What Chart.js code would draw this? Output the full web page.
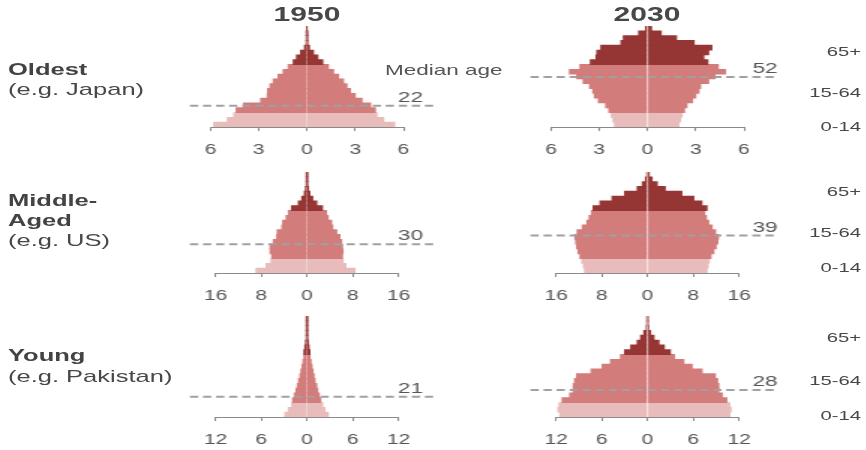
<!DOCTYPE html>
<html>
<head>
<meta charset="utf-8">
<script src="https://cdn.jsdelivr.net/npm/chart.js@4.4.1/dist/chart.umd.min.js"></script>
<style>
    html, body { margin: 0; padding: 0; background: #fff; overflow: hidden; }
    #page {
        position: absolute; left: 0; top: 0;
        width: 578px; height: 450px;
        transform: scaleX(1.5); transform-origin: 0 0;
        font-family: 'Liberation Sans', Arial, sans-serif; color: #444;
    }
    .txt { position: absolute; white-space: nowrap; line-height: 20px; }
    canvas { position: absolute; }
</style>
</head>
<body>
<div id="page"></div>
<script>
// 5-year age bands, bottom to top
const ageGroups = ['0-4', '5-9', '10-14', '15-19', '20-24', '25-29', '30-34', '35-39', '40-44', '45-49',
    '50-54', '55-59', '60-64', '65-69', '70-74', '75-79', '80-84', '85-89', '90-94', '95-99', '100+'];

const japan1950Male = [5.8, 4.95, 4.55, 4.4, 3.95, 2.88, 2.47, 2.45, 2.3, 2.1, 1.8, 1.48, 1.17, 0.85, 0.65, 0.4, 0.15, 0.05, 0.04, 0.03, 0];
const japan1950Female = [5.45, 4.77, 4.35, 4.25, 3.95, 3.42, 3.0, 2.7, 2.48, 2.27, 1.96, 1.65, 1.33, 0.98, 0.67, 0.4, 0.15, 0.05, 0.04, 0.03, 0];
const japan2030Male = [2.05, 2.15, 2.25, 2.4, 2.6, 3.05, 3.3, 3.4, 3.6, 4.0, 4.4, 4.85, 4.2, 3.55, 3.2, 3.15, 2.9, 1.65, 1.5, 0.55, 0.12];
const japan2030Female = [1.95, 2.05, 2.15, 2.3, 2.45, 2.8, 3.0, 3.2, 3.3, 3.8, 4.2, 4.85, 4.4, 3.75, 3.5, 3.8, 4.0, 2.9, 1.8, 0.85, 0.25];
const us1950Male = [8.9, 7.15, 6.3, 6.15, 6.45, 6.45, 5.9, 5.3, 5.2, 4.4, 4.25, 3.65, 3.25, 2.7, 1.5, 0.9, 0.45, 0.25, 0.08, 0.05, 0.03];
const us1950Female = [8.4, 6.8, 6.3, 6.2, 6.3, 6.2, 6.05, 5.75, 5.2, 4.5, 4.3, 3.7, 3.4, 2.7, 1.7, 1.0, 0.5, 0.25, 0.08, 0.05, 0.03];
const us2030Male = [11.0, 11.2, 11.5, 11.8, 12.15, 12.4, 12.55, 12.7, 12.3, 11.4, 10.6, 10.2, 9.8, 9.5, 8.3, 6.2, 4.0, 1.8, 0.9, 0.35, 0.1];
const us2030Female = [10.4, 10.6, 10.8, 11.1, 11.6, 12.0, 12.3, 12.4, 11.9, 11.3, 10.7, 10.3, 10.0, 10.4, 9.5, 8.1, 6.0, 3.1, 1.7, 0.8, 0.3];
const pakistan1950Male = [2.9, 2.45, 2.0, 1.88, 1.66, 1.44, 1.27, 1.1, 0.92, 0.79, 0.65, 0.52, 0.4, 0.4, 0.28, 0.18, 0.08, 0.06, 0.05, 0.04, 0.03];
const pakistan1950Female = [2.8, 2.35, 2.05, 1.8, 1.6, 1.4, 1.27, 1.05, 0.92, 0.79, 0.65, 0.52, 0.4, 0.38, 0.26, 0.17, 0.08, 0.06, 0.05, 0.04, 0.03];
const pakistan2030Male = [11.5, 11.75, 11.6, 11.2, 10.2, 9.74, 9.74, 9.56, 9.3, 7.4, 5.94, 4.85, 3.54, 3.0, 2.2, 1.35, 0.9, 0.48, 0.15, 0.08, 0.05];
const pakistan2030Female = [10.8, 10.96, 10.8, 10.4, 9.8, 9.35, 9.35, 9.2, 8.9, 7.16, 5.85, 4.76, 3.54, 3.0, 2.2, 1.5, 0.85, 0.4, 0.15, 0.08, 0.05];

// panel order: Japan 1950, Japan 2030, US 1950, US 2030, Pakistan 1950, Pakistan 2030
const medianAges = [22, 52, 30, 39, 21, 28];
const axisMax = [6, 6, 16, 16, 12, 12];
const axisStep = [3, 3, 8, 8, 6, 6];

const yearLabels = ['1950', '2030'];
const rowTitles = [['Oldest'], ['Middle-', 'Aged'], ['Young']];
const rowExamples = ['(e.g. Japan)', '(e.g. US)', '(e.g. Pakistan)'];
const groupLabels = ['65+', '15-64', '0-14'];

const COLOR_YOUNG = '#e8bcba';
const COLOR_WORK = '#d27c7b';
const COLOR_OLD = '#953634';

// page is stretched horizontally by S, positions below are in screen px
const S = 1.5;
const page = document.getElementById('page');

function addText(text, x, y, style, align) {
    const d = document.createElement('div');
    d.className = 'txt';
    d.textContent = text;
    d.style.left = (x / S) + 'px';
    d.style.top = (y - 10) + 'px';
    Object.assign(d.style, style || {});
    if (align === 'right') d.style.transform = 'translateX(-100%)';
    if (align === 'center') d.style.transform = 'translateX(-50%)';
    page.appendChild(d);
}

const medianPlugin = {
    id: 'median',
    afterDatasetsDraw(chart, args, opts) {
        const { ctx, chartArea, scales: { x, y } } = chart;
        const x0 = x.getPixelForValue(0);
        ctx.save();
        if (opts.center) {
            ctx.strokeStyle = 'rgba(255,255,255,0.4)';
            ctx.lineWidth = 1.2;
            ctx.beginPath();
            ctx.moveTo(x0, chartArea.top);
            ctx.lineTo(x0, chartArea.bottom);
            ctx.stroke();
        }
        const yy = y.getPixelForValue(opts.age / 5 - 0.5);
        ctx.setLineDash([5.5, 3.2]);
        ctx.strokeStyle = '#a0a0a0';
        ctx.lineWidth = 2;
        ctx.beginPath();
        ctx.moveTo(x0 - 117 / S, yy);
        ctx.lineTo(x0 + 128 / S, yy);
        ctx.stroke();
        ctx.setLineDash([]);
        ctx.fillStyle = '#555';
        ctx.font = '15px "Liberation Sans", Arial, sans-serif';
        ctx.textAlign = 'right';
        ctx.textBaseline = 'middle';
        ctx.fillText(String(opts.age), x0 + opts.labelDx / S, yy - 8);
        ctx.restore();
    }
};

function bandColor(i) {
    if (i < 3) return COLOR_YOUNG;
    if (i < 13) return COLOR_WORK;
    return COLOR_OLD;
}

function pyramidChart(p) {
    const zeroX = p.zeroX;
    const leftReal = zeroX - 127;
    const W = 177, H = 150;
    const cv = document.createElement('canvas');
    cv.width = W; cv.height = H;
    cv.style.left = (leftReal / S) + 'px';
    cv.style.top = (p.axisY - 110) + 'px';
    page.appendChild(cv);

    const colors = ageGroups.map((_, i) => bandColor(i));

    new Chart(cv, {
        type: 'bar',
        data: {
            labels: ageGroups,
            datasets: [
                { label: 'Male', data: p.male.map(v => -v), backgroundColor: colors, borderWidth: 0, inflateAmount: 0.4 },
                { label: 'Female', data: p.female, backgroundColor: colors, borderWidth: 0, inflateAmount: 0.4 }
            ]
        },
        options: {
            indexAxis: 'y',
            responsive: false,
            animation: false,
            events: [],
            barPercentage: 1,
            categoryPercentage: 1,
            layout: {
                padding: {
                    top: 9, bottom: 0,
                    left: (127 - p.halfW) / S,
                    right: W - (127 + p.halfW) / S
                }
            },
            plugins: {
                legend: { display: false },
                tooltip: { enabled: false },
                median: { age: p.median, center: p.center, labelDx: p.labelDx }
            },
            scales: {
                y: { display: false, stacked: true, reverse: true },
                x: {
                    stacked: true,
                    min: -p.max, max: p.max,
                    afterFit: s => { s.height = 40; },
                    grid: { drawOnChartArea: false, drawTicks: true, tickLength: 4, color: '#8a8a8a' },
                    border: { display: true, color: '#8a8a8a', width: 1 },
                    ticks: {
                        stepSize: p.step,
                        padding: 11,
                        color: '#555',
                        font: { family: "'Liberation Sans', Arial, sans-serif", size: 14 },
                        maxRotation: 0,
                        autoSkip: false,
                        callback: v => Math.abs(v)
                    }
                }
            }
        },
        plugins: [medianPlugin]
    });
}

const males = [japan1950Male, japan2030Male, us1950Male, us2030Male, pakistan1950Male, pakistan2030Male];
const females = [japan1950Female, japan2030Female, us1950Female, us2030Female, pakistan1950Female, pakistan2030Female];
const rowAxisY = [126.5, 273.3, 417.3];
const colZeroX = [307, 647];

males.forEach((m, i) => {
    const row = Math.floor(i / 2), col = i % 2;
    pyramidChart({
        male: m,
        female: females[i],
        median: medianAges[i],
        max: axisMax[i],
        step: axisStep[i],
        zeroX: colZeroX[col],
        halfW: row === 0 ? 96.5 : 91.5,
        axisY: rowAxisY[row],
        center: col === 1,
        labelDx: col === 0 ? 116 : 130
    });
});

// column titles
yearLabels.forEach((t, c) => {
    addText(t, colZeroX[c], 14, { fontWeight: 'bold', fontSize: '20px', color: '#474747' }, 'center');
});

// row titles on the left
const rowTitleY = [70, 201, 356];
rowTitles.forEach((lines, r) => {
    lines.forEach((t, k) => {
        addText(t, 8, rowTitleY[r] + k * 20, { fontWeight: 'bold', fontSize: '17px', color: '#434343' });
    });
    addText(rowExamples[r], 8, rowTitleY[r] + lines.length * 20 + (r === 2 ? 1 : 0), { fontSize: '17px', color: '#484848' });
});

addText('Median age', 385, 70, { fontSize: '15px', color: '#555' });

// age group labels on the right
const groupLabelY = [[52, 93, 127], [192, 233, 268], [338, 381, 416]];
groupLabelY.forEach(ys => {
    ys.forEach((y, k) => addText(groupLabels[k], 861, y, { fontSize: '13.5px', color: '#484848' }, 'right'));
});
</script>
</body>
</html>
